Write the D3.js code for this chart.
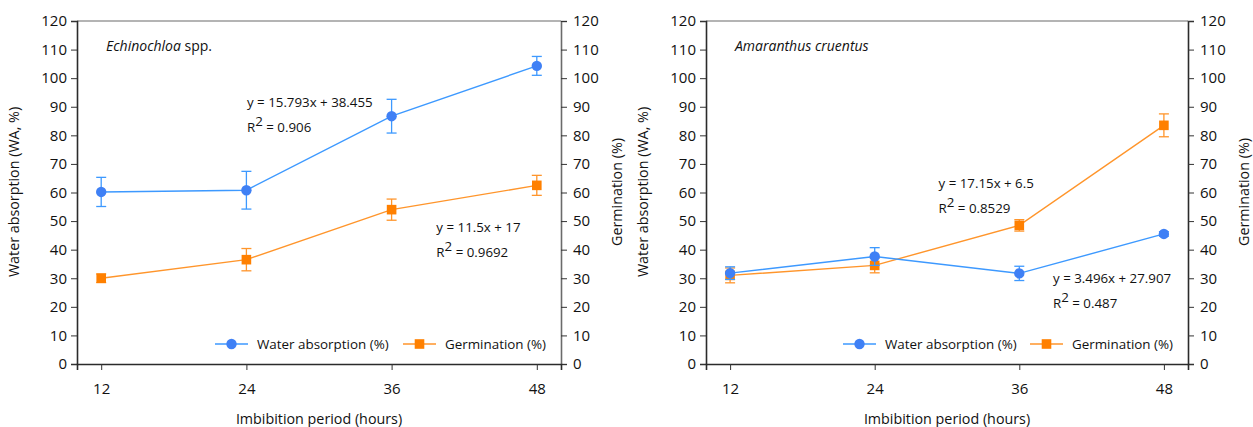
<!DOCTYPE html>
<html>
<head>
<meta charset="utf-8">
<script src="https://cdn.jsdelivr.net/npm/d3@7"></script>
<style>
  body { margin: 0; background: #fff; }
  svg { font-family: "Open Sans", sans-serif; }
</style>
</head>
<body>
<svg id="canvas" width="1253" height="427"></svg>
<script>
// imbibition period, hours
let hours = [12, 24, 36, 48];

// Echinochloa spp.
let echWA = [60.2, 60.8, 86.7, 104.3];
let echWAErr = [5.1, 6.6, 5.9, 3.3];
let echGerm = [30, 36.5, 54, 62.5];
let echGermErr = [1.5, 3.9, 3.7, 3.5];

// Amaranthus cruentus
let amaWA = [31.8, 37.6, 31.7, 45.5];
let amaWAErr = [2.2, 3.1, 2.5, 0.8];
let amaGerm = [31, 34.5, 48.5, 83.5];
let amaGermErr = [2.6, 2.6, 2, 4];

let yTicks = d3.range(0, 121, 10);

let blueLine = "#3d99ff", blueMark = "#3f80f5";
let orangeLine = "#ff952b", orangeMark = "#ff8000";

let canvas = d3.select("#canvas");

//Draws one panel: plot area from x0 to x1
function drawPanel(opt) {
    let g = canvas.append("g");
    let x = d3.scaleLinear().domain([10, 50]).range([opt.x0, opt.x1]);
    let y = d3.scaleLinear().domain([0, 120]).range([364, 21]);

    // frame top
    g.append("line").attr("x1", opt.x0).attr("x2", opt.x1).attr("y1", 21).attr("y2", 21)
        .attr("stroke", "#6b6b6b").attr("stroke-width", 1.2);

    // axes
    let left = g.append("g").attr("transform", "translate(" + opt.x0 + ",0)")
        .call(d3.axisLeft(y).tickValues(yTicks).tickSize(6).tickPadding(4));
    let right = g.append("g").attr("transform", "translate(" + opt.x1 + ",0)")
        .call(d3.axisRight(y).tickValues(yTicks).tickSize(6).tickPadding(6));
    let bottom = g.append("g").attr("transform", "translate(0,364)")
        .call(d3.axisBottom(x).tickValues(hours).tickSize(6).tickPadding(13));
    [left, right, bottom].forEach(a => {
        a.selectAll("text").style("font-size", "15px").style("font-family", "Open Sans").attr("fill", "#111");
        a.selectAll("line").attr("stroke", "#333");
        a.select(".domain").attr("stroke", "#2b2b2b").attr("stroke-width", 1.6);
    });
    right.select(".domain").attr("stroke", opt.rightAxisColor);

    // axis titles
    g.append("text").attr("transform", "translate(" + (opt.x0 - 58) + ",192) rotate(-90)")
        .attr("text-anchor", "middle").style("font-size", "14.3px").attr("fill", "#111")
        .text("Water absorption (WA, %)");
    g.append("text").attr("transform", "translate(" + (opt.x1 + 61) + ",192) rotate(-90)")
        .attr("text-anchor", "middle").style("font-size", "14.3px").attr("fill", "#111")
        .text("Germination (%)");
    g.append("text").attr("x", (opt.x0 + opt.x1) / 2).attr("y", 424)
        .attr("text-anchor", "middle").style("font-size", "14.3px").attr("fill", "#111")
        .text("Imbibition period (hours)");

    // species title
    let t = g.append("text").attr("x", opt.x0 + 29).attr("y", 51).style("font-size", "14px").attr("fill", "#111");
    t.append("tspan").style("font-style", "italic").text(opt.species);
    if (opt.suffix) t.append("tspan").text(opt.suffix);

    // series
    let series = [
        { vals: opt.wa, err: opt.waErr, line: blueLine, mark: blueMark, shape: "circle" },
        { vals: opt.germ, err: opt.germErr, line: orangeLine, mark: orangeMark, shape: "square" }
    ];
    let order = opt.germFirst ? [series[1], series[0]] : series;
    order.forEach(s => {
        let pts = hours.map((h, i) => ({ h: h, v: s.vals[i], e: s.err[i] }));
        g.append("path").datum(pts)
            .attr("fill", "none").attr("stroke", s.line).attr("stroke-width", 1.4)
            .attr("d", d3.line().x(d => x(d.h)).y(d => y(d.v)));
        let eb = g.selectAll(null).data(pts).join("g").attr("stroke", s.line).attr("stroke-width", 1.3);
        eb.append("line").attr("x1", d => x(d.h)).attr("x2", d => x(d.h))
            .attr("y1", d => y(d.v - d.e)).attr("y2", d => y(d.v + d.e));
        eb.append("line").attr("x1", d => x(d.h) - 5).attr("x2", d => x(d.h) + 5)
            .attr("y1", d => y(d.v - d.e)).attr("y2", d => y(d.v - d.e));
        eb.append("line").attr("x1", d => x(d.h) - 5).attr("x2", d => x(d.h) + 5)
            .attr("y1", d => y(d.v + d.e)).attr("y2", d => y(d.v + d.e));
        if (s.shape === "circle") {
            g.selectAll(null).data(pts).join("circle")
                .attr("cx", d => x(d.h)).attr("cy", d => y(d.v)).attr("r", 5.2).attr("fill", s.mark);
        } else {
            g.selectAll(null).data(pts).join("rect")
                .attr("x", d => x(d.h) - 4.8).attr("y", d => y(d.v) - 4.8)
                .attr("width", 9.6).attr("height", 9.6).attr("fill", s.mark);
        }
    });

    // regression equations
    opt.eqs.forEach(q => {
        g.append("text").attr("x", x(q.at[0])).attr("y", y(q.at[1]))
            .style("font-size", "13.3px").attr("fill", "#111").text(q.eq);
        let r = g.append("text").attr("x", x(q.at[0])).attr("y", y(q.at[1]) + 25)
            .style("font-size", "13.3px").attr("fill", "#111");
        r.append("tspan").text("R");
        r.append("tspan").attr("dy", -6).text("2");
        r.append("tspan").attr("dy", 6).text(" = " + q.r2);
    });

    // legend
    let lg = [
        { label: "Water absorption (%)", line: blueLine, mark: blueMark, shape: "circle", lx: opt.legX[0] },
        { label: "Germination (%)", line: orangeLine, mark: orangeMark, shape: "square", lx: opt.legX[1] }
    ];
    let li = g.selectAll(null).data(lg).join("g")
        .attr("transform", d => "translate(" + d.lx + ",344)");
    li.append("line").attr("x1", 0).attr("x2", 33).attr("stroke", d => d.line).attr("stroke-width", 1.6);
    li.each(function (d) {
        let s = d3.select(this);
        if (d.shape === "circle") s.append("circle").attr("cx", 16.5).attr("r", 5.2).attr("fill", d.mark);
        else s.append("rect").attr("x", 11.7).attr("y", -4.8).attr("width", 9.6).attr("height", 9.6).attr("fill", d.mark);
    });
    li.append("text").attr("x", 42).attr("y", 4.8).style("font-size", "13.4px").attr("fill", "#111")
        .text(d => d.label);
}

drawPanel({
    x0: 77, x1: 561, species: "Echinochloa", suffix: " spp.",
    wa: echWA, waErr: echWAErr, germ: echGerm, germErr: echGermErr,
    rightAxisColor: "#6b6b6b",
    eqs: [
        { eq: "y = 15.793x + 38.455", r2: "0.906", at: [24.05, 89.9] },
        { eq: "y = 11.5x + 17", r2: "0.9692", at: [39.7, 46.2] }
    ],
    legX: [215, 403]
});

drawPanel({
    x0: 706, x1: 1188, species: "Amaranthus cruentus", suffix: "",
    wa: amaWA, waErr: amaWAErr, germ: amaGerm, germErr: amaGermErr,
    rightAxisColor: "#2b2b2b", germFirst: true,
    eqs: [
        { eq: "y = 17.15x + 6.5", r2: "0.8529", at: [29.3, 61.4] },
        { eq: "y = 3.496x + 27.907", r2: "0.487", at: [38.8, 28.4] }
    ],
    legX: [843, 1030]
});
</script>
</body>
</html>
